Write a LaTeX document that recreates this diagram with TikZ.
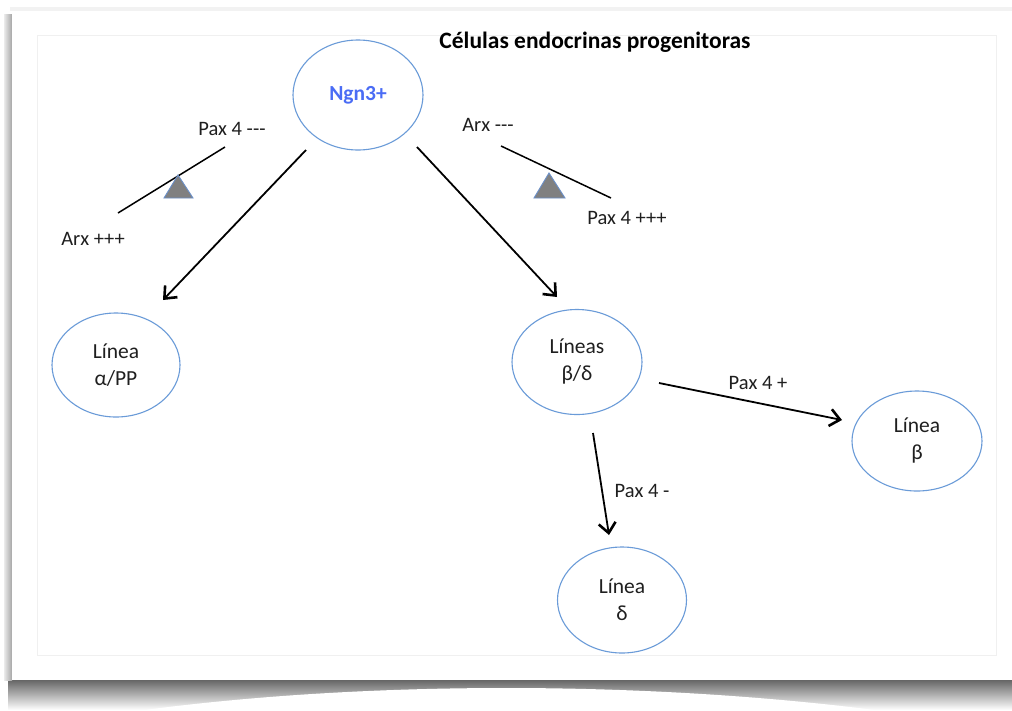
\documentclass[tikz,border=0pt]{standalone}
\usepackage{fontspec}
\setmainfont{Carlito}
\usetikzlibrary{arrows.meta,shadings,shapes.geometric}
\definecolor{ellblue}{HTML}{6A9BD8}
\definecolor{ngnblue}{HTML}{4A6CF5}
\definecolor{trigray}{HTML}{808080}
\definecolor{triedge}{HTML}{6A8FC8}
\tikzset{
  cell/.style={draw=ellblue, line width=1.1pt, ellipse, inner sep=0pt, align=center, font=\fontsize{21.5}{27}\selectfont, text=black!88},
  lbl/.style={font=\fontsize{20.5}{24}\selectfont, text=black!88},
  conn/.style={line width=1.8pt, -{Straight Barb[length=10pt,width=17pt,line width=2.6pt]}},
  lever/.style={line width=1.5pt},
  fulcrum/.style={fill=trigray, draw=triedge, line width=0.9pt},
}
\begin{document}
\begin{tikzpicture}[x=1pt,y=-1pt]
\useasboundingbox (0,0) rectangle (1012,710);
\fill[white] (0,0) rectangle (1012,710);
% shadows of the page
\shade[top color=black!60, bottom color=white] (8,680) rectangle (1012,710);
\fill[white] (130,712) .. controls (360,680) and (650,680) .. (890,712) -- cycle;
\shade[left color=black!8, right color=black!35] (4,14) rectangle (12,680);
\fill[black!5] (10,7) rectangle (1012,11);
% page
\fill[white] (12,11) rectangle (1012,680);
\draw[black!6, line width=0.8pt] (37,35) rectangle (996,655);

% nodes
\node[cell, minimum width=130pt, minimum height=110pt, font=\fontsize{21.5}{26}\selectfont\bfseries, text=ngnblue] (ngn) at (358,95) {Ngn3+};
\node[cell, minimum width=128pt, minimum height=104pt] (alpha) at (116,365) {Línea\\α/PP};
\node[cell, minimum width=130pt, minimum height=105pt] (bd) at (577,362) {Líneas\\β/δ};
\node[cell, minimum width=130pt, minimum height=100pt] (beta) at (917,441) {Línea\\β};
\node[cell, minimum width=129pt, minimum height=106pt] (delta) at (622,600) {Línea\\δ};

\node[font=\fontsize{23.5}{28}\selectfont\bfseries, text=black] (title) at (595,42) {Células endocrinas progenitoras};

% connectors
\coordinate (a1) at (306,150); \coordinate (a2) at (163,300);
\coordinate (b1) at (417,147); \coordinate (b2) at (557,297);
\coordinate (c1) at (659,383); \coordinate (c2) at (842,420);
\coordinate (d1) at (593,433); \coordinate (d2) at (609,535);
\draw[conn] (a1) -- (a2);
\draw[conn] (b1) -- (b2);
\draw[conn] (c1) -- (c2);
\draw[conn] (d1) -- (d2);

% seesaws
\coordinate (l1) at (118,213); \coordinate (l2) at (225,147);
\draw[lever] (l1) -- (l2);
\draw[fulcrum] (178,175) -- (193,198) -- (164,198) -- cycle;
\coordinate (r1) at (501,146); \coordinate (r2) at (611,198);
\draw[lever] (r1) -- (r2);
\draw[fulcrum] (549,173) -- (565,198) -- (534,198) -- cycle;

% labels
\node[lbl] (p4m3) at (232,129) {Pax 4 {-}{-}{-}};
\node[lbl] (arxp3) at (93,239) {Arx +++};
\node[lbl] (arxm3) at (488,125) {Arx {-}{-}{-}};
\node[lbl] (p4p3) at (627,218) {Pax 4 +++};
\node[lbl] (p4p) at (758,383) {Pax 4 +};
\node[lbl] (p4m) at (642,491) {Pax 4 -};
\end{tikzpicture}
\end{document}
